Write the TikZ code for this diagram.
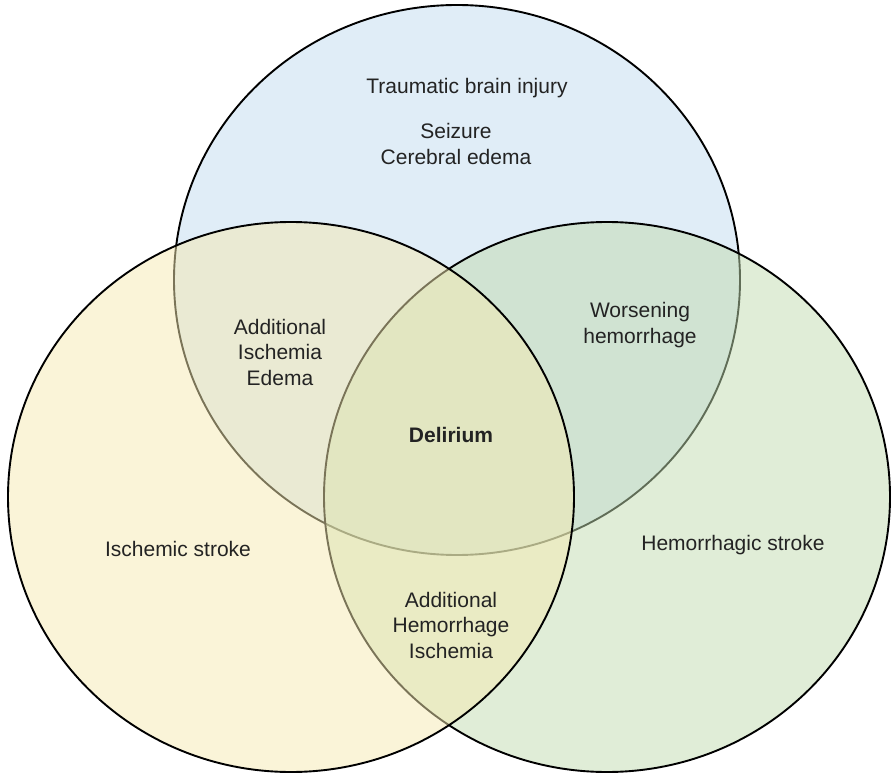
\documentclass[tikz,border=0pt]{standalone}
\usepackage{fontspec}
\setmainfont{Liberation Sans}
\definecolor{tbiblue}{RGB}{224,237,247}
\definecolor{ischyellow}{RGB}{245,233,177}
\definecolor{hemgreen}{RGB}{193,219,175}
\definecolor{textgray}{RGB}{35,35,35}
\usetikzlibrary{shapes.geometric}

\begin{document}
\begin{tikzpicture}[
        x=1pt, y=-1pt,
        venn/.style={ellipse, draw=black, line width=1.9pt, minimum width=566pt, minimum height=550pt, inner sep=0pt},
        txt/.style={align=center, text=textgray, inner sep=0pt, font=\fontsize{21}{25.5}\selectfont}
    ]
        \useasboundingbox (0,0) rectangle (891,775);

        % Sets
        \node[venn, fill=tbiblue] (tbi) at (457,280) {};
        \node[venn, fill=hemgreen, fill opacity=0.5] (hem) at (607,497) {};
        \node[venn, fill=ischyellow, fill opacity=0.5] (isch) at (291,497) {};

        % Set names
        \node[txt] (tbiname) at (467,88) {Traumatic brain injury};
        \node[txt] (ischname) at (178,549) {Ischemic stroke};
        \node[txt] (hemname) at (733,545) {Hemorrhagic stroke};

        % Overlaps
        \node[txt] (tbionly) at (456,144) {Seizure\\Cerebral edema};
        \node[txt] (tbiisch) at (280,352) {Additional\\Ischemia\\Edema};
        \node[txt] (tbihem) at (640,325) {Worsening\\hemorrhage};
        \node[txt] (ischhem) at (451,625) {Additional\\Hemorrhage\\Ischemia};
        \node[txt, font=\fontsize{21}{25.5}\selectfont\bfseries] (delirium) at (451,435) {Delirium};
    \end{tikzpicture}
\end{document}
